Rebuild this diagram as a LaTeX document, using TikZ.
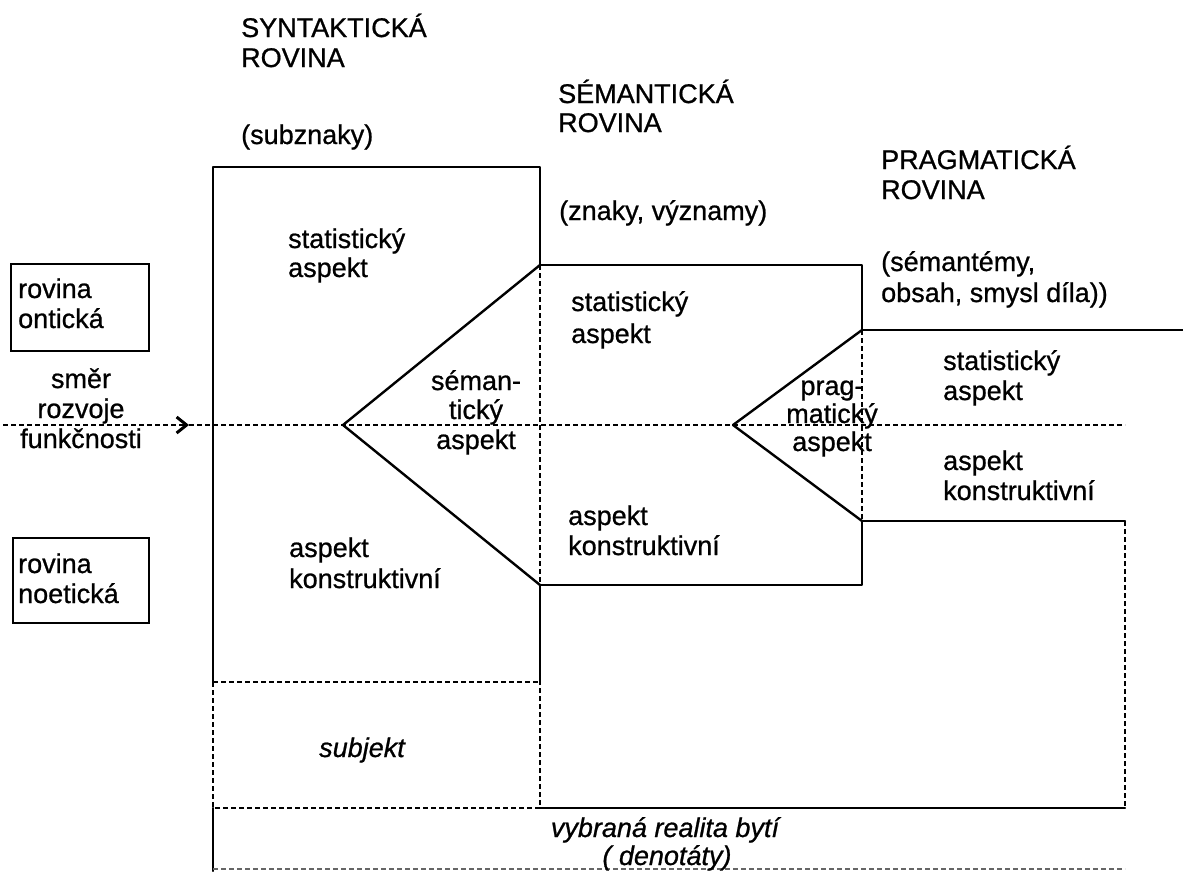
\documentclass[tikz,border=0pt]{standalone}
\usepackage{fontspec}
\setmainfont{Liberation Sans}[FakeBold=0.8]
\usetikzlibrary{arrows.meta}
\begin{document}
\begin{tikzpicture}[x=1pt,y=-1pt,
  solidline/.style={line width=2.4pt, line cap=round, line join=round},
  dashline/.style={line width=1.4pt, dash pattern=on 5pt off 3pt},
  txt/.style={inner sep=0pt, anchor=base west, font=\fontsize{27}{30}\selectfont},
  ctxt/.style={inner sep=0pt, anchor=base, font=\fontsize{27}{30}\selectfont},
  itxt/.style={inner sep=0pt, anchor=base, font=\fontsize{27}{30}\selectfont\itshape},
  labbox/.style={draw, line width=1.9pt, inner sep=0pt, anchor=north west}]
\useasboundingbox (0,0) rectangle (1183,871);
% ---- frame coordinates
\coordinate (s1) at (213,167);
\coordinate (s2) at (540,167);
\coordinate (s3) at (213,682);
\coordinate (s4) at (540,682);
\coordinate (s5) at (213,808);
\coordinate (s6) at (540,808);
\coordinate (s7) at (213,871);
\coordinate (m1) at (540,265);
\coordinate (m2) at (862,265);
\coordinate (m3) at (540,585);
\coordinate (m4) at (862,585);
\coordinate (semA) at (343,425);
\coordinate (pragA) at (733,425);
\coordinate (p1) at (862,330);
\coordinate (p2) at (1183,330);
\coordinate (p3) at (862,521);
\coordinate (p4) at (1125,521);
\coordinate (p5) at (1125,808);
\coordinate (dL) at (3,425);
\coordinate (dT) at (189,425);
\coordinate (dR) at (1125,425);
\coordinate (b1) at (213,869);
\coordinate (b2) at (1125,869);
% ---- solid lines
\draw[solidline] (s3) -- (s1) -- (s2) -- (m1) -- (m2) -- (p1) -- (p2);
\draw[solidline] (semA) -- (m1);
\draw[solidline] (semA) -- (m3);
\draw[solidline] (m3) -- (m4) -- (p3) -- (p4);
\draw[solidline] (pragA) -- (p1);
\draw[solidline] (pragA) -- (p3);
\draw[solidline] (m3) -- (s4);
\draw[solidline] (s6) -- (p5);
\draw[solidline] (s5) -- (s7);
% ---- dashed lines
\draw[dashline] (m1) -- (m3);
\draw[dashline] (p1) -- (p3);
\draw[dashline] (s3) -- (s4);
\draw[dashline] (s3) -- (s5) -- (s6) -- (s4);
\draw[dashline] (p4) -- (p5);
\draw[dashline] (dT) -- (dR);
\draw[dashline, -{Straight Barb[length=10pt,width=16pt,line width=3pt]}] (dL) -- (dT);
\draw[dashline, black!60] (b1) -- (b2);
% ---- left boxes
\node[labbox, minimum width=138pt, minimum height=87pt] (ontbox) at (10,263) {};
\node[labbox, minimum width=136pt, minimum height=85pt] (noebox) at (12,537) {};
\node[txt] (ont1) at (18,298) {rovina};
\node[txt] (ont2) at (18,328) {ontická};
\node[txt] (noe1) at (18,573) {rovina};
\node[txt] (noe2) at (18,603) {noetická};
\node[ctxt] (dir1) at (81,388) {směr};
\node[ctxt] (dir2) at (81,418) {rozvoje};
\node[ctxt] (dir3) at (81,448) {funkčnosti};
% ---- headings
\node[txt] (synh1) at (241,37) {SYNTAKTICKÁ};
\node[txt] (synh2) at (241,67) {ROVINA};
\node[txt] (synh3) at (241,144) {(subznaky)};
\node[txt] (semh1) at (558,103) {SÉMANTICKÁ};
\node[txt] (semh2) at (558,132) {ROVINA};
\node[txt] (semh3) at (559,220) {(znaky, významy)};
\node[txt] (prah1) at (881,169) {PRAGMATICKÁ};
\node[txt] (prah2) at (881,199) {ROVINA};
\node[txt] (prah3) at (881,271) {(sémantémy,};
\node[txt] (prah4) at (881,302) {obsah, smysl díla))};
% ---- syntactic box texts
\node[txt] (syst1) at (288,248) {statistický};
\node[txt] (syst2) at (288,277) {aspekt};
\node[txt] (syko1) at (289,557) {aspekt};
\node[txt] (syko2) at (289,588) {konstruktivní};
\node[itxt] (subj) at (362,757) {subjekt};
% ---- semantic texts
\node[ctxt] (semt1) at (476,390) {séman-};
\node[ctxt] (semt2) at (476,419) {tický};
\node[ctxt] (semt3) at (476,449) {aspekt};
\node[txt] (sest1) at (571,311) {statistický};
\node[txt] (sest2) at (571,343) {aspekt};
\node[txt] (seko1) at (568,525) {aspekt};
\node[txt] (seko2) at (568,555) {konstruktivní};
% ---- pragmatic texts
\node[ctxt] (prt1) at (832,395) {prag-};
\node[ctxt] (prt2) at (832,423) {matický};
\node[ctxt] (prt3) at (832,451) {aspekt};
\node[txt] (prst1) at (943,370) {statistický};
\node[txt] (prst2) at (943,400) {aspekt};
\node[txt] (prko1) at (943,470) {aspekt};
\node[txt] (prko2) at (943,500) {konstruktivní};
% ---- bottom
\node[itxt] (real1) at (665,837) {vybraná realita bytí};
\node[itxt] (real2) at (667,865) {( denotáty)};
\end{tikzpicture}
\end{document}
